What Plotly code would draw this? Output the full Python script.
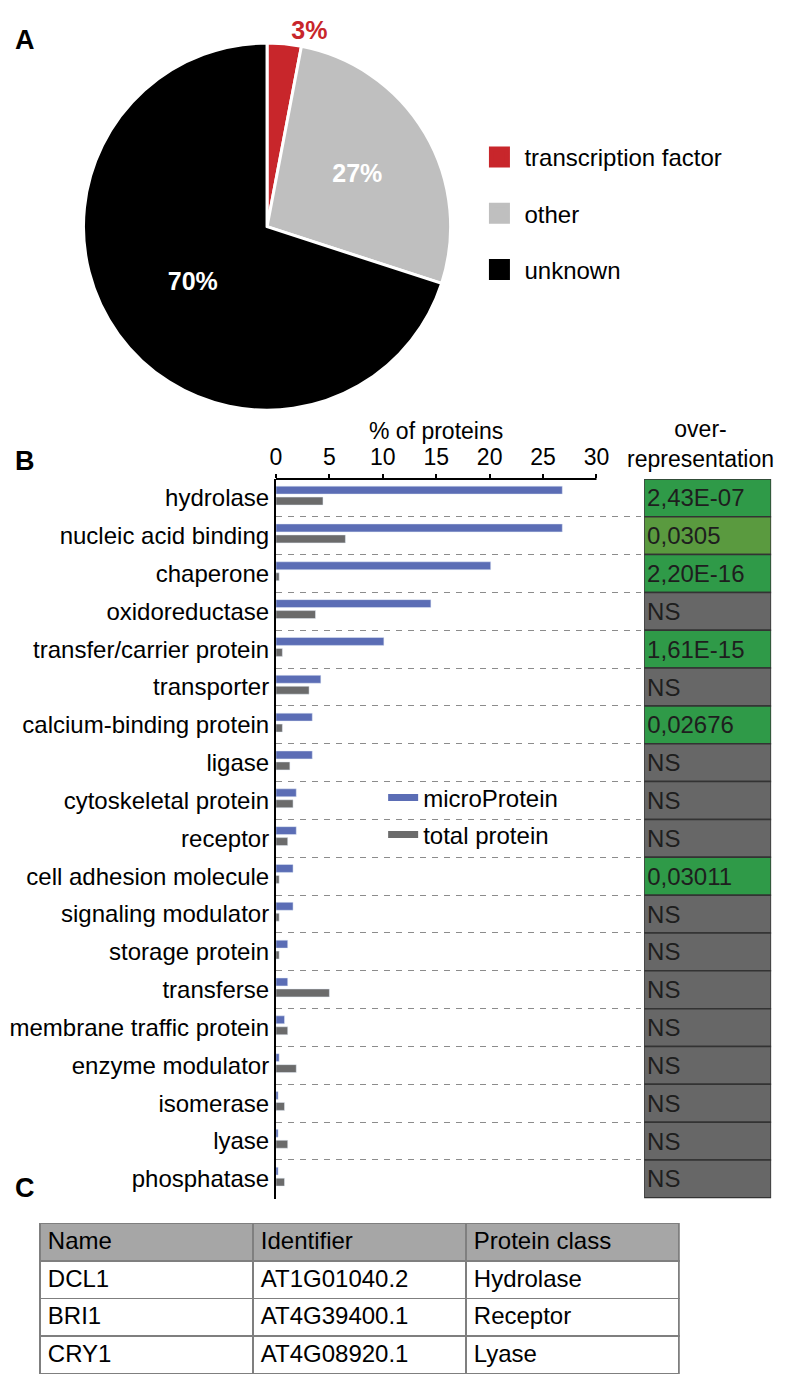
import plotly.graph_objects as go

FONT = "Liberation Sans, Arial, Helvetica, sans-serif"
# the page body adds an 8px margin, so the figure is drawn 8px in from the window edge
PAD = 8
W, H = 789 - PAD, 1375 - PAD


def px(x):
    return (x - PAD) / W


def py(y):
    return 1 - (y - PAD) / H


# panel A
pie_labels = ["transcription factor", "other", "unknown"]
pie_values = [3, 27, 70]
pie_colors = ["#c8262b", "#bfbfbf", "#000000"]

# panel B
categories = ["hydrolase", "nucleic acid binding", "chaperone", "oxidoreductase",
              "transfer/carrier protein", "transporter", "calcium-binding protein",
              "ligase", "cytoskeletal protein", "receptor", "cell adhesion molecule",
              "signaling modulator", "storage protein", "transferse",
              "membrane traffic protein", "enzyme modulator", "isomerase", "lyase",
              "phosphatase"]
micro_protein = [26.8, 26.8, 20.1, 14.5, 10.1, 4.2, 3.4, 3.4, 1.9, 1.9, 1.6, 1.6,
                 1.1, 1.1, 0.8, 0.3, 0.2, 0.2, 0.2]
total_protein = [4.4, 6.5, 0.3, 3.7, 0.6, 3.1, 0.6, 1.3, 1.6, 1.1, 0.3, 0.3,
                 0.3, 5.0, 1.1, 1.9, 0.8, 1.1, 0.8]
over_rep = ["2,43E-07", "0,0305", "2,20E-16", "NS", "1,61E-15", "NS", "0,02676",
            "NS", "NS", "NS", "0,03011", "NS", "NS", "NS", "NS", "NS", "NS", "NS", "NS"]
x_ticks = [0, 5, 10, 15, 20, 25, 30]

# panel C
table_header = ["Name", "Identifier", "Protein class"]
table_names = ["DCL1", "BRI1", "CRY1"]
table_ids = ["AT1G01040.2", "AT4G39400.1", "AT4G08920.1"]
table_classes = ["Hydrolase", "Receptor", "Lyase"]

# cell colours for the over-representation column
box_style = {"NS": "#676767"}
box_colors = [box_style.get(v, "#5a9a3f" if v == "0,0305" else "#2f9a48") for v in over_rep]

idx = list(range(len(categories)))
y_top = py(471)
y_bot = py(1197)

fig = go.Figure()

fig.add_trace(go.Pie(
    labels=pie_labels, values=pie_values, sort=False, direction="clockwise", rotation=0,
    marker=dict(colors=pie_colors, line=dict(color="white", width=3)),
    texttemplate="%{percent:.0%}", textposition=["outside", "inside", "inside"],
    insidetextorientation="horizontal",
    insidetextfont=dict(color="white", size=25, family=FONT, weight="bold"),
    outsidetextfont=dict(color="#c8262b", size=25, family=FONT, weight="bold"),
    domain=dict(x=[px(78), px(448)], y=[py(403), py(30)]),
    showlegend=False, hoverinfo="label+percent",
))

# legend entries for the pie
for lab, col in zip(pie_labels, pie_colors):
    fig.add_trace(go.Scatter(
        x=[None], y=[None], mode="markers", name=lab, legend="legend", legendgroup=lab,
        marker=dict(symbol="square", size=16, color=col, line=dict(color=col, width=5)),
    ))

fig.add_trace(go.Bar(
    y=idx, x=micro_protein, orientation="h", width=0.21, offset=-0.31,
    marker_color="#5b6db5", name="microProtein", showlegend=False,
))
fig.add_trace(go.Bar(
    y=idx, x=total_protein, orientation="h", width=0.21, offset=-0.02,
    marker_color="#6b6b6b", name="total protein", showlegend=False,
))
for lab, col in [("microProtein", "#5b6db5"), ("total protein", "#6b6b6b")]:
    fig.add_trace(go.Scatter(
        x=[None], y=[None], mode="lines", name=lab, legend="legend2", legendgroup=lab,
        line=dict(color=col, width=7),
    ))

# over-representation boxes
fig.add_trace(go.Bar(
    y=idx, x=[1] * len(idx), orientation="h", width=1, xaxis="x2", yaxis="y",
    marker=dict(color=box_colors, line=dict(color="#333333", width=1.5)),
    text=over_rep, textposition="inside", insidetextanchor="start",
    textfont=dict(color="#1e1e1e", size=24, family=FONT),
    showlegend=False, hoverinfo="skip",
))

fig.add_trace(go.Table(
    domain=dict(x=[px(34), px(678)], y=[0, py(1222)]),
    columnwidth=[1, 1, 1],
    header=dict(values=table_header, fill_color="#a6a6a6", align="left", height=37.5,
                line=dict(color="#7f7f7f", width=1.5),
                font=dict(size=24, color="black", family=FONT)),
    cells=dict(values=[table_names, table_ids, table_classes], fill_color="white",
               align="left", height=37.5, line=dict(color="#7f7f7f", width=1.5),
               font=dict(size=24, color="black", family=FONT)),
))

fig.update_layout(
    width=W, height=H, margin=dict(l=0, r=0, t=0, b=0),
    paper_bgcolor="white", plot_bgcolor="white",
    font=dict(family=FONT, size=24, color="black"),
    barmode="overlay",
    xaxis=dict(domain=[px(272), px(640)], range=[0, 30 * 368 / 323], side="top",
               tickvals=x_ticks, ticks="outside", ticklen=4, tickwidth=2, tickcolor="black",
               tickfont=dict(size=23), showgrid=False, zeroline=False, showline=False,
               anchor="y", fixedrange=True),
    xaxis2=dict(domain=[px(643), px(771)], range=[0, 1], visible=False, anchor="y"),
    yaxis=dict(domain=[y_bot, y_top], range=[len(idx) - 0.48, -0.5],
               tickvals=idx, ticktext=categories, ticks="", showline=True, linewidth=2,
               linecolor="black", showgrid=False, zeroline=False, anchor="x",
               minor=dict(tickmode="linear", tick0=0.5, dtick=1, showgrid=True,
                          griddash="6px,6px", gridcolor="#8c8c8c", gridwidth=1.2)),
    legend=dict(x=px(472), y=py(124), xanchor="left", yanchor="top", itemwidth=40,
                font=dict(size=24), tracegroupgap=22, bgcolor="rgba(0,0,0,0)"),
    legend2=dict(x=px(380), y=py(770), xanchor="left", yanchor="top",
                 font=dict(size=24), tracegroupgap=3, bgcolor="rgba(0,0,0,0)"),
    shapes=[dict(type="line", xref="x", x0=0, x1=30, yref="paper", y0=y_top, y1=y_top,
                 line=dict(color="black", width=2))],
    annotations=[
        dict(text="<b>A</b>", x=px(7), y=py(28), xref="paper", yref="paper",
             xanchor="left", yanchor="middle", showarrow=False, font=dict(size=27)),
        dict(text="<b>B</b>", x=px(7), y=py(453), xref="paper", yref="paper",
             xanchor="left", yanchor="middle", showarrow=False, font=dict(size=27)),
        dict(text="<b>C</b>", x=px(7), y=py(1186), xref="paper", yref="paper",
             xanchor="left", yanchor="middle", showarrow=False, font=dict(size=27)),
        dict(text="% of proteins", x=15, xref="x", y=py(423), yref="paper",
             xanchor="center", yanchor="middle", showarrow=False, font=dict(size=23)),
        dict(text="over-<br>representation", x=px(700), xref="paper", y=py(466),
             yref="paper", xanchor="center", yanchor="bottom", showarrow=False,
             font=dict(size=23)),
    ],
)

fig.write_html("out.html")
